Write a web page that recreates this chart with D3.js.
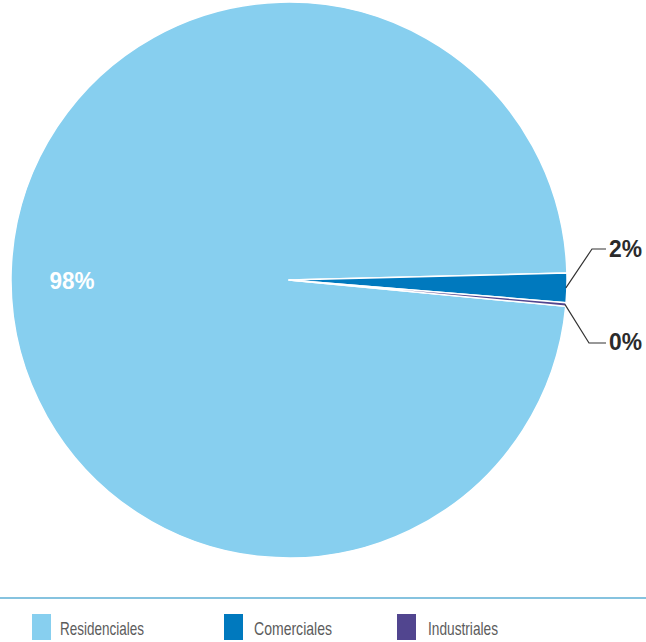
<!DOCTYPE html>
<html><head><meta charset="utf-8">
<script src="https://cdn.jsdelivr.net/npm/d3@7"></script>
<style>body{margin:0;background:#fff}svg{display:block}</style>
</head><body>
<script>
const categories = ["Residenciales", "Comerciales", "Industriales"];
const values = [98.1, 1.7, 0.2];
const labels = ["98%", "2%", "0%"];
const colors = ["#87CFEF", "#0079BE", "#51458F"];

const W = 646, H = 642;
const svg = d3.select("body").append("svg").attr("width", W).attr("height", H);
const cx = 289, cy = 280, R = 278;
const g = svg.append("g").attr("transform", `translate(${cx},${cy})`);

const startDeg = -264.6;
const pie = d3.pie().sort(null)
  .startAngle(startDeg * Math.PI / 180)
  .endAngle((startDeg + 360) * Math.PI / 180);
const arcs = pie(values);
const arc = d3.arc().innerRadius(0).outerRadius(R);

g.selectAll("path").data(arcs).enter().append("path")
  .attr("d", arc).attr("fill", (d, i) => colors[i])
  .attr("stroke", "#fff").attr("stroke-width", 1.5).attr("stroke-linejoin", "round");

// inside label for main slice
g.append("text").attr("x", 72 - cx).attr("y", 289 - cy)
  .attr("text-anchor", "middle").attr("fill", "#fff")
  .attr("font-family", "Liberation Sans, Arial, sans-serif").attr("font-weight", "bold")
  .attr("font-size", 23).attr("textLength", 45).attr("lengthAdjust", "spacingAndGlyphs")
  .text(labels[0]);

// outside labels with leader lines
const outside = [
  {i: 1, ex: 592, ey: 249, ty: 257},
  {i: 2, ex: 589, ey: 343, ty: 350}
];
outside.forEach(o => {
  const a = arcs[o.i];
  const mid = (a.startAngle + a.endAngle) / 2;
  const px = Math.sin(mid) * (R - 1), py = -Math.cos(mid) * (R - 1);
  g.append("polyline")
    .attr("points", `${px},${py} ${o.ex - cx},${o.ey - cy} ${606 - cx},${o.ey - cy}`)
    .attr("fill", "none").attr("stroke", "#333").attr("stroke-width", 1.2);
  g.append("text").attr("x", 609 - cx).attr("y", o.ty - cy)
    .attr("fill", "#2b2b2b")
    .attr("font-family", "Liberation Sans, Arial, sans-serif").attr("font-weight", "bold")
    .attr("font-size", 23).attr("textLength", 33).attr("lengthAdjust", "spacingAndGlyphs")
    .text(labels[o.i]);
});

// legend
svg.append("line").attr("x1", 0).attr("x2", W).attr("y1", 598).attr("y2", 598)
  .attr("stroke", "#86C3DF").attr("stroke-width", 2);
const legX = [32, 224, 397];
const legTextX = [60, 254, 428];
const legW = [84, 78, 70];
categories.forEach((c, i) => {
  svg.append("rect").attr("x", legX[i]).attr("y", 614).attr("width", 19).attr("height", 26)
    .attr("fill", colors[i]);
  svg.append("text").attr("x", legTextX[i]).attr("y", 635)
    .attr("fill", "#5c5c5c")
    .attr("font-family", "Liberation Sans, Arial, sans-serif")
    .attr("font-size", 19).attr("textLength", legW[i]).attr("lengthAdjust", "spacingAndGlyphs")
    .text(c);
});
</script>
</body></html>
